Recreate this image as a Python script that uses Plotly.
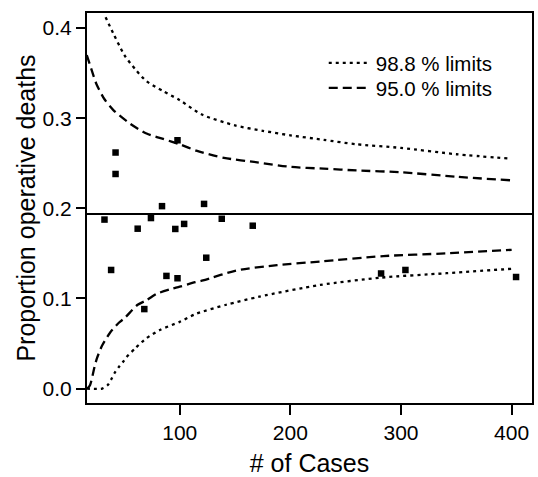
import plotly.graph_objects as go

# Unit-level outcomes: number of cases and proportion of operative deaths
cases = [32, 38, 42, 42, 62, 68, 74, 84, 88, 96, 98, 98, 104, 122, 124, 138, 166, 282, 304, 404]
prop_deaths = [0.1875, 0.1316, 0.2619, 0.2381, 0.1774, 0.0882, 0.1892, 0.2024, 0.1250, 0.1771,
               0.2755, 0.1224, 0.1827, 0.2049, 0.1452, 0.1884, 0.1807, 0.1277, 0.1316, 0.1238]

# Overall proportion (centre line)
overall_prop = 0.1937

# 98.8 % control limits
upper_988_n = [33, 40, 50, 60, 70, 85, 100, 120, 150, 175, 200, 230, 260, 300, 350, 400]
upper_988_p = [0.412, 0.394, 0.370, 0.354, 0.341, 0.330, 0.320, 0.304, 0.292, 0.286,
               0.281, 0.276, 0.271, 0.267, 0.260, 0.255]
lower_988_n = [16, 30, 35, 38, 41, 45, 49, 52, 60, 70, 82, 100, 115, 142, 172, 227, 281, 341, 401]
lower_988_p = [0.0, 0.0, 0.004, 0.010, 0.017, 0.024, 0.030, 0.035, 0.045, 0.056, 0.065,
               0.074, 0.083, 0.093, 0.102, 0.115, 0.123, 0.128, 0.133]

# 95.0 % control limits
upper_950_n = [16, 20, 25, 32, 40, 55, 70, 85, 100, 115, 140, 170, 200, 230, 260, 300, 350, 400]
upper_950_p = [0.370, 0.355, 0.337, 0.321, 0.309, 0.294, 0.283, 0.277, 0.271, 0.264,
               0.256, 0.251, 0.246, 0.244, 0.242, 0.240, 0.235, 0.231]
lower_950_n = [16.5, 19, 23, 25, 30, 37, 45, 50, 62, 70, 79, 91, 100, 114, 121, 151, 188,
               227, 284, 341, 400]
lower_950_p = [0.0, 0.004, 0.024, 0.033, 0.048, 0.062, 0.073, 0.078, 0.093, 0.098, 0.105,
               0.110, 0.113, 0.118, 0.120, 0.131, 0.137, 0.141, 0.147, 0.150, 0.154]

FONT = "Liberation Sans, Arial, Helvetica, sans-serif"
DOT = "3px,4px"
DASH = "9px,5px"
LW = 2.3


def limit_line(dash):
    return dict(color="black", width=LW, dash=dash, shape="spline", smoothing=0.7)


fig = go.Figure()

fig.add_trace(go.Scatter(x=upper_988_n, y=upper_988_p, mode="lines", name="98.8 % limits",
                         line=limit_line(DOT), legend="legend"))
fig.add_trace(go.Scatter(x=lower_988_n, y=lower_988_p, mode="lines", showlegend=False,
                         line=limit_line(DOT)))
fig.add_trace(go.Scatter(x=upper_950_n, y=upper_950_p, mode="lines", name="95.0 % limits",
                         line=limit_line(DASH), legend="legend2"))
fig.add_trace(go.Scatter(x=lower_950_n, y=lower_950_p, mode="lines", showlegend=False,
                         line=limit_line(DASH)))

fig.add_trace(go.Scatter(x=cases, y=prop_deaths, mode="markers", showlegend=False,
                         marker=dict(symbol="square", size=6.5, color="black",
                                     line=dict(width=0))))

fig.add_hline(y=overall_prop, line=dict(color="black", width=2))

legend_style = dict(x=0.532, xanchor="left", yanchor="top",
                    bgcolor="rgba(0,0,0,0)", borderwidth=0,
                    font=dict(size=20.5), itemwidth=42)

fig.update_layout(
    width=538, height=477,
    margin=dict(l=87, r=6, t=13, b=74),
    plot_bgcolor="white", paper_bgcolor="white",
    font=dict(family=FONT, size=21, color="black"),
    legend=dict(y=0.923, **legend_style),
    legend2=dict(y=0.859, **legend_style),
)

fig.update_xaxes(range=[16.2, 418.4], tickvals=[100, 200, 300, 400], automargin=False,
                 ticks="outside", ticklen=10, tickwidth=2, tickcolor="black",
                 showline=True, linecolor="black", linewidth=2, mirror=True,
                 showgrid=False, zeroline=False,
                 title=dict(text="# of Cases", standoff=22))
fig.update_yaxes(range=[-0.016, 0.4167], tickvals=[0.0, 0.1, 0.2, 0.3, 0.4], tickformat=".1f",
                 automargin=False,
                 ticks="outside", ticklen=9, tickwidth=2, tickcolor="black",
                 showline=True, linecolor="black", linewidth=2, mirror=True,
                 showgrid=False, zeroline=False,
                 title=dict(text="Proportion operative deaths", standoff=0))

fig.write_html("out.html")
